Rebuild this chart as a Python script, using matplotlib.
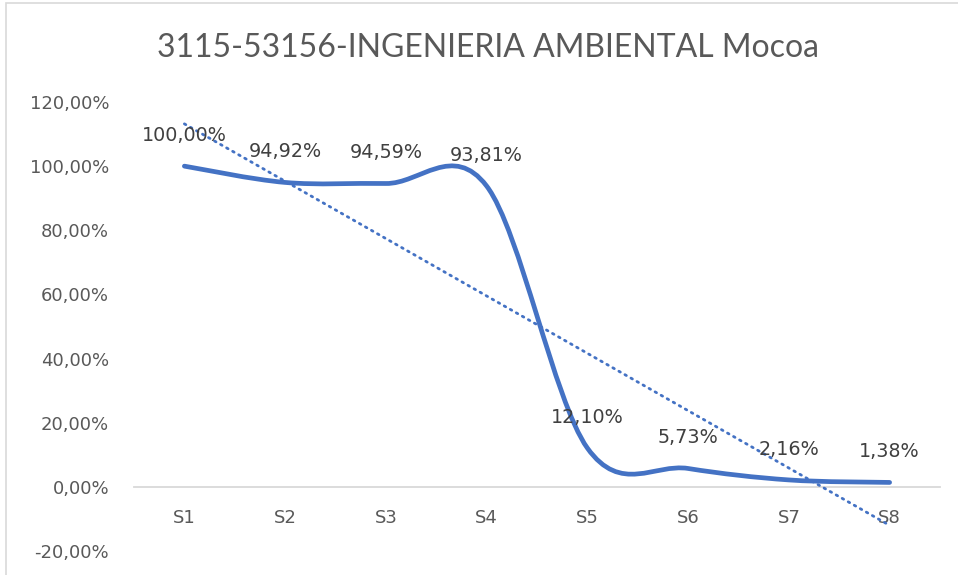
import numpy as np
from matplotlib import pyplot as plt
from matplotlib.patches import Rectangle
from matplotlib.path import Path
from matplotlib.patches import PathPatch

# semester labels and retention values (%)
semesters = ['S1', 'S2', 'S3', 'S4', 'S5', 'S6', 'S7', 'S8']
values = [100.00, 94.92, 94.59, 93.81, 12.10, 5.73, 2.16, 1.38]
labels = ['100,00%', '94,92%', '94,59%', '93,81%', '12,10%', '5,73%', '2,16%', '1,38%']
yticks = [-20, 0, 20, 40, 60, 80, 100, 120]

blue = '#4472C4'
grey_txt = '#595959'

x = np.arange(1, len(values) + 1, dtype=float)
y = np.array(values)

plt.rcParams['font.family'] = ['DejaVu Sans']

fig = plt.figure(figsize=(9.58, 5.75), dpi=100)
ax = fig.add_axes([134 / 958, 1 - 551 / 575, (940 - 134) / 958, (551 - 102) / 575])

# smoothed line like excel (catmull-rom style bezier)
verts = [(x[0], y[0])]
codes = [Path.MOVETO]
n = len(x)
for i in range(n - 1):
    p0 = np.array([x[max(i - 1, 0)], y[max(i - 1, 0)]])
    p1 = np.array([x[i], y[i]])
    p2 = np.array([x[i + 1], y[i + 1]])
    p3 = np.array([x[min(i + 2, n - 1)], y[min(i + 2, n - 1)]])
    c1 = p1 + (p2 - p0) / 6
    c2 = p2 - (p3 - p1) / 6
    verts += [tuple(c1), tuple(c2), tuple(p2)]
    codes += [Path.CURVE4] * 3
ax.add_patch(PathPatch(Path(verts, codes), fill=False, edgecolor=blue,
                       lw=3.4, capstyle='round', joinstyle='round', zorder=3))

# linear trendline
slope, inter = np.polyfit(x, y, 1)
ax.plot(x, slope * x + inter, color=blue, lw=2.0, linestyle=(0, (0.6, 1.9)),
        dash_capstyle='round', zorder=4)

for xi, yi, lab in zip(x, y, labels):
    ax.annotate(lab, (xi, yi), xytext=(0, 22), textcoords='offset points',
                ha='center', va='center', fontsize=13.8, color='#404040', zorder=5)

ax.set_xlim(0.5, 8.5)
ax.set_ylim(-20, 120)
ax.set_yticks(yticks)
ax.set_yticklabels(['%d,00%%' % t for t in yticks])
ax.set_xticks(x)
ax.set_xticklabels(semesters)

for s in ['top', 'right', 'left']:
    ax.spines[s].set_visible(False)
ax.spines['bottom'].set_position(('data', 0))
ax.spines['bottom'].set_color('#D9D9D9')
ax.spines['bottom'].set_linewidth(1.3)
ax.tick_params(axis='both', length=0, colors=grey_txt, labelsize=13)
ax.tick_params(axis='x', pad=16)
ax.tick_params(axis='y', pad=18)

fig.text(488 / 958, 1 - 48 / 575, '3115-53156-INGENIERIA AMBIENTAL Mocoa', ha='center',
         va='center', fontsize=23, color='#595959', family='Lato')

# chart border
fig.patches.append(Rectangle((6 / 958, -0.1), 1.2, 1.1 - 3 / 575, transform=fig.transFigure,
                             fill=False, edgecolor='#D9D9D9', lw=1.2))

plt.savefig('out.png', dpi=100)
